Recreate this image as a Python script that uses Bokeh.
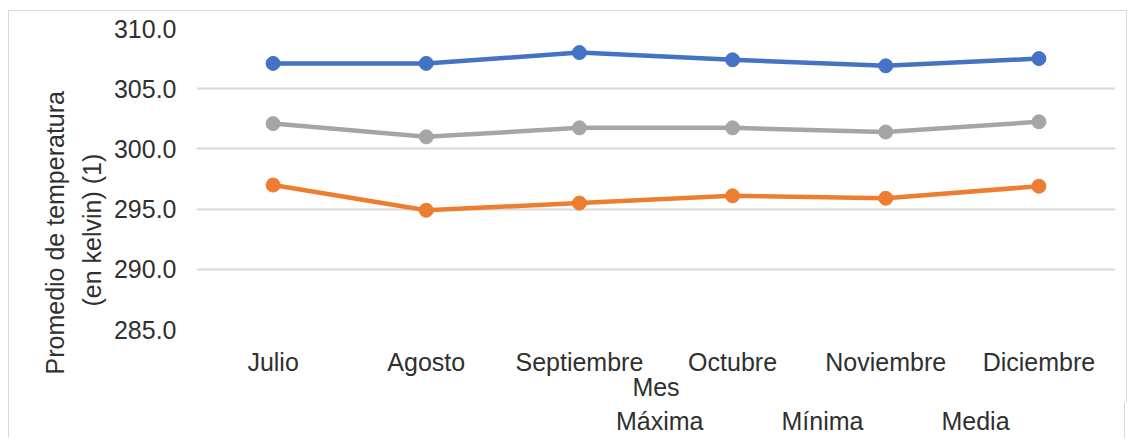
from bokeh.plotting import figure
from bokeh.layouts import column
from bokeh.embed import file_html
from bokeh.resources import INLINE
from bokeh.models import FixedTicker, PrintfTickFormatter, Legend, LegendItem, Range1d, Title

meses = ["Julio", "Agosto", "Septiembre", "Octubre", "Noviembre", "Diciembre"]
maxima = [307.1, 307.1, 308.0, 307.4, 306.9, 307.5]
minima = [297.0, 294.9, 295.5, 296.1, 295.9, 296.9]
media = [302.1, 301.0, 301.75, 301.75, 301.4, 302.25]
y_ticks = [285, 290, 295, 300, 305, 310]
y_title = ["Promedio de temperatura", "(en kelvin) (1)"]
series = [("Máxima", maxima, "#4472C4"), ("Mínima", minima, "#ED7D31"), ("Media", media, "#A5A5A5")]

FONT = "Liberation Sans"
TXT = "#303030"
FS = "25px"
BORDER = "1px solid #d9d9d9"

p = figure(x_range=meses, y_range=Range1d(285, 310), frame_width=917, frame_height=300,
           output_backend="svg", toolbar_location=None,
           min_border_left=187, min_border_right=13, min_border_top=17, min_border_bottom=0)
p.outline_line_color = None
p.styles = {"margin-left": "8px", "margin-top": "10px", "border-top": BORDER,
            "border-left": BORDER, "border-right": BORDER}

p.xgrid.grid_line_color = None
p.ygrid.grid_line_color = "#d9d9d9"
p.ygrid.grid_line_width = 2
p.yaxis.ticker = FixedTicker(ticks=y_ticks)
p.yaxis.formatter = PrintfTickFormatter(format="%.1f")

for ax in (p.xaxis, p.yaxis):
    ax.axis_line_color = None
    ax.major_tick_line_color = None
    ax.minor_tick_line_color = None
    ax.major_label_text_font = FONT
    ax.major_label_text_font_size = FS
    ax.major_label_text_color = TXT
    ax.axis_label_text_font = FONT
    ax.axis_label_text_font_size = FS
    ax.axis_label_text_font_style = "normal"
    ax.axis_label_text_color = TXT

p.yaxis.major_label_standoff = 14
p.xaxis.axis_label = "Mes"
p.xaxis.major_label_standoff = 12
p.xaxis.axis_label_standoff = -6

# second line is nearest the axis, first line outermost
t2 = Title(text=y_title[1], align="left", offset=23, standoff=10,
           text_font=FONT, text_font_size=FS, text_font_style="normal", text_color=TXT)
t1 = Title(text=y_title[0], align="left", offset=-45, standoff=4,
           text_font=FONT, text_font_size=FS, text_font_style="normal", text_color=TXT)
p.add_layout(t2, "left")
p.add_layout(t1, "left")

for name, vals, col in series:
    p.line(meses, vals, line_color=col, line_width=4.5)
    p.scatter(meses, vals, size=14, fill_color=col, line_color=col)

# legend strip below the chart
p2 = figure(width=1117, height=36, output_backend="svg", toolbar_location=None,
            x_axis_type=None, y_axis_type=None,
            min_border_left=0, min_border_right=0, min_border_top=0, min_border_bottom=0)
p2.outline_line_color = None
p2.grid.grid_line_color = None
p2.styles = {"margin-left": "8px", "border-left": BORDER, "border-right": BORDER}

items = []
for name, vals, col in series:
    l = p2.line([], [], line_color=col, line_width=4.5)
    s = p2.scatter([], [], size=10, fill_color=col, line_color=col)
    items.append(LegendItem(label=name, renderers=[l, s]))

legend = Legend(items=items, orientation="horizontal", location=(360, 2),
                label_text_font=FONT, label_text_font_size=FS, label_text_color=TXT,
                glyph_width=60, glyph_height=20, spacing=18, label_standoff=0,
                border_line_color=None, background_fill_alpha=0, padding=0, margin=0)
p2.add_layout(legend)

layout = column(p, p2, spacing=0)
open("out.html", "w").write(file_html(layout, INLINE))
